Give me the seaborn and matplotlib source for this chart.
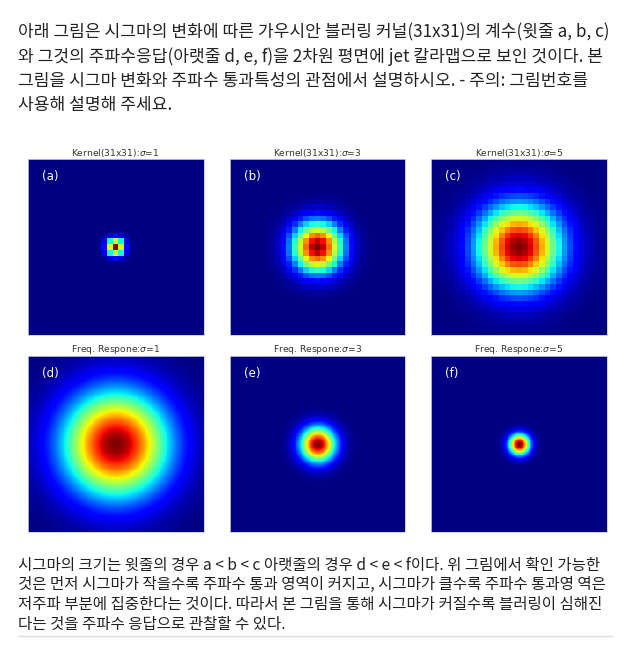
import numpy as np
import matplotlib
matplotlib.use("Agg")
import matplotlib.pyplot as plt
import seaborn as sns

sns.set_style("white")
plt.rcParams['font.family'] = ['Noto Sans CJK KR', 'DejaVu Sans']

# chart data
sigmas = [1, 3, 5]
kernel_size = 31
fft_size = 256
view_size = 200  # central part of the spectrum that is shown
kernel_labels = ["(a)", "(b)", "(c)"]
freq_labels = ["(d)", "(e)", "(f)"]
kernel_titles = [f"Kernel(31x31):$\\sigma$={s}" for s in sigmas]
freq_titles = [f"Freq. Respone:$\\sigma$={s}" for s in sigmas]

top_lines = [
    "아래 그림은 시그마의 변화에 따른 가우시안 블러링 커널(31x31)의 계수(윗줄 a, b, c)",
    "와 그것의 주파수응답(아랫줄 d, e, f)을 2차원 평면에 jet 칼라맵으로 보인 것이다. 본",
    "그림을 시그마 변화와 주파수 통과특성의 관점에서 설명하시오. - 주의: 그림번호를",
    "사용해 설명해 주세요.",
]
bottom_lines = [
    "시그마의 크기는 윗줄의 경우 a < b < c 아랫줄의 경우 d < e < f이다. 위 그림에서 확인 가능한",
    "것은 먼저 시그마가 작을수록 주파수 통과 영역이 커지고, 시그마가 클수록 주파수 통과영 역은",
    "저주파 부분에 집중한다는 것이다. 따라서 본 그림을 통해 시그마가 커질수록 블러링이 심해진",
    "다는 것을 주파수 응답으로 관찰할 수 있다.",
]


def gaussian_kernel(size, sigma):
    ax = np.arange(size) - size // 2
    g = np.exp(-ax ** 2 / (2 * sigma ** 2))
    g = g / g.sum()
    return np.outer(g, g)


def freq_response(kernel, n, view):
    spec = np.fft.fftshift(np.abs(np.fft.fft2(kernel, s=(n, n))))
    lo = (n - view) // 2
    return spec[lo:lo + view, lo:lo + view]


fig = plt.figure(figsize=(6.31, 6.60), dpi=100)
W, H = 631, 660

for i, line in enumerate(top_lines):
    fig.text(18 / W, 1 - (32 + 24.3 * i) / H, line, fontsize=12.3, color="#222222",
             va="center", ha="left")
for i, line in enumerate(bottom_lines):
    fig.text(18 / W, 1 - (565 + 19.7 * i) / H, line, fontsize=11.2, color="#222222",
             va="center", ha="left")
fig.add_artist(plt.Line2D([18 / W, 612 / W], [1 - 635.5 / H, 1 - 635.5 / H],
                          color="#dddddd", lw=1))

lefts = [27.5, 229.5, 431]
tops = [159, 356]
size = 176

for col, s in enumerate(sigmas):
    k = gaussian_kernel(kernel_size, s)
    f = freq_response(k, fft_size, view_size)
    for row, (data, title, lab) in enumerate([(k, kernel_titles[col], kernel_labels[col]),
                                              (f, freq_titles[col], freq_labels[col])]):
        ax = fig.add_axes([lefts[col] / W, 1 - (tops[row] + size) / H, size / W, size / H])
        sns.heatmap(data, cmap="jet", cbar=False, xticklabels=False, yticklabels=False,
                    ax=ax, rasterized=True)
        ax.set_title(title, fontsize=6.6, color="#333333", pad=2,
                     family="DejaVu Sans")
        ax.text(0.08, 0.9, lab, transform=ax.transAxes, color="white", fontsize=8.5,
                family="DejaVu Sans", va="center", ha="left")
        for sp in ax.spines.values():
            sp.set_visible(True)
            sp.set_color("#c8cbe0")
            sp.set_linewidth(0.6)

fig.savefig("out.png", dpi=100)
